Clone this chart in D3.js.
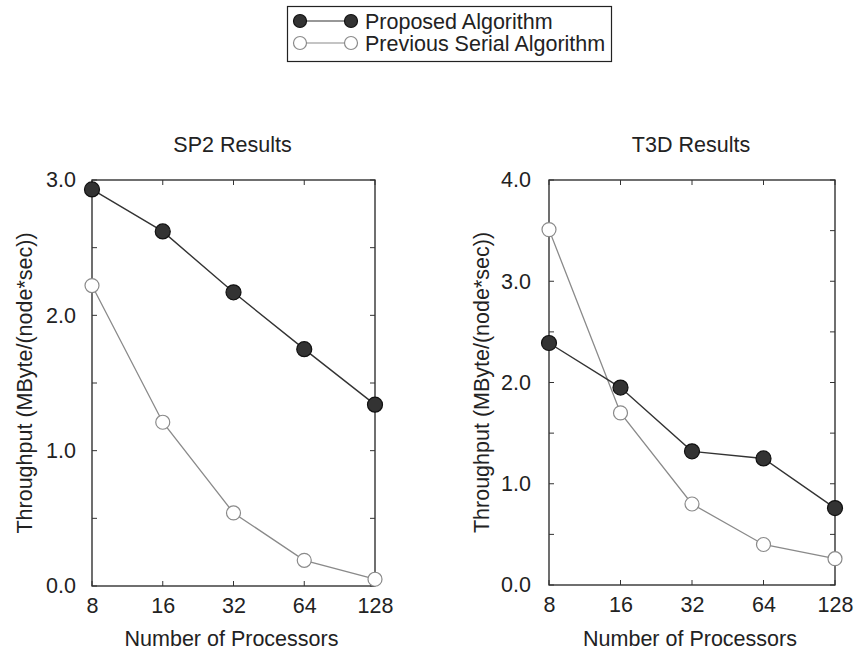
<!DOCTYPE html>
<html>
<head>
<meta charset="utf-8">
<script src="https://cdn.jsdelivr.net/npm/d3@7"></script>
<style>
  body { margin: 0; background: #fff; }
  text { font-family: "Liberation Sans", Arial, sans-serif; fill: #222; }
</style>
</head>
<body>
<svg id="svg" width="855" height="655"></svg>
<script>
// data
var processors = [8, 16, 32, 64, 128];
var seriesNames = ["Proposed Algorithm", "Previous Serial Algorithm"];
var sp2Proposed = [2.93, 2.62, 2.17, 1.75, 1.34];
var sp2Previous = [2.22, 1.21, 0.54, 0.19, 0.05];
var t3dProposed = [2.39, 1.95, 1.32, 1.25, 0.76];
var t3dPrevious = [3.51, 1.70, 0.80, 0.40, 0.26];
var sp2Ticks = [0, 1, 2, 3];
var t3dTicks = [0, 1, 2, 3, 4];

var svg = d3.select("#svg");

var darkCol = "#333";
var lightCol = "#8a8a8a";
var fs = 21.5;

// legend
var legend = svg.append("g");
legend.append("rect")
  .attr("x", 287.5).attr("y", 6.5).attr("width", 324).attr("height", 55)
  .attr("fill", "none").attr("stroke", "#222").attr("stroke-width", 1.2);

seriesNames.forEach(function(name, i){
  var y = 21 + i * 22;
  var g = legend.append("g");
  g.append("line").attr("x1", 300).attr("x2", 351).attr("y1", y).attr("y2", y)
    .attr("stroke", i == 0 ? darkCol : lightCol).attr("stroke-width", 1.2);
  [300, 351].forEach(function(cx){
    g.append("circle").attr("cx", cx).attr("cy", y).attr("r", 6.5)
      .attr("fill", i == 0 ? darkCol : "#fff")
      .attr("stroke", i == 0 ? "#111" : lightCol).attr("stroke-width", 1.2);
  });
  g.append("text").attr("x", 365).attr("y", y + 7.5)
    .attr("font-size", fs).text(name);
});

function drawPanel(opts){
  var x = d3.scaleLog().base(2).domain([8, 128]).range([opts.left, opts.right]);
  var y = d3.scaleLinear().domain([0, opts.ymax]).range([opts.bottom, opts.top]);
  var g = svg.append("g");

  g.append("text").attr("x", (opts.left + opts.right) / 2 - 1).attr("y", 152)
    .attr("text-anchor", "middle").attr("font-size", fs).text(opts.title);

  // frame
  g.append("rect").attr("x", opts.left).attr("y", opts.top)
    .attr("width", opts.right - opts.left).attr("height", opts.bottom - opts.top)
    .attr("fill", "none").attr("stroke", "#222").attr("stroke-width", 1.3);

  // inward ticks
  var minor = d3.range(0, opts.ymax + 0.01, 0.5);
  minor.forEach(function(v){
    g.append("line").attr("x1", opts.left).attr("x2", opts.left + 5)
      .attr("y1", y(v)).attr("y2", y(v)).attr("stroke", "#333");
    g.append("line").attr("x1", opts.right).attr("x2", opts.right - 5)
      .attr("y1", y(v)).attr("y2", y(v)).attr("stroke", "#333");
  });
  processors.forEach(function(p){
    g.append("line").attr("x1", x(p)).attr("x2", x(p))
      .attr("y1", opts.top).attr("y2", opts.top + 5).attr("stroke", "#333");
    g.append("line").attr("x1", x(p)).attr("x2", x(p))
      .attr("y1", opts.bottom).attr("y2", opts.bottom - 5).attr("stroke", "#333");
  });

  // tick labels
  var yAxis = d3.axisLeft(y).tickValues(opts.ticks).tickFormat(d3.format(".1f"))
    .tickSize(0).tickPadding(opts.ypad);
  var ya = g.append("g").attr("transform", "translate(" + opts.left + ",0)").call(yAxis);
  ya.select(".domain").remove();
  ya.attr("font-size", null).attr("font-family", null);
  ya.selectAll("text").attr("font-size", fs).attr("fill", "#222");

  var xAxis = d3.axisBottom(x).tickValues(processors).tickFormat(d3.format("d"))
    .tickSize(0).tickPadding(12);
  var xa = g.append("g").attr("transform", "translate(0," + opts.bottom + ")").call(xAxis);
  xa.select(".domain").remove();
  xa.attr("font-size", null).attr("font-family", null);
  xa.selectAll("text").attr("font-size", fs).attr("fill", "#222");

  g.append("text").attr("x", (opts.left + opts.right) / 2 - 2).attr("y", 646)
    .attr("text-anchor", "middle").attr("font-size", fs).text("Number of Processors");

  g.append("text")
    .attr("transform", "translate(" + (opts.left - 60) + "," + ((opts.top + opts.bottom) / 2) + ") rotate(-90)")
    .attr("text-anchor", "middle").attr("font-size", fs)
    .text("Throughput (MByte/(node*sec))");

  var line = d3.line().x(function(d, i){ return x(processors[i]); }).y(function(d){ return y(d); });

  // previous serial (drawn first, lighter)
  g.append("path").attr("d", line(opts.previous)).attr("fill", "none")
    .attr("stroke", lightCol).attr("stroke-width", 1.3);
  g.append("path").attr("d", line(opts.proposed)).attr("fill", "none")
    .attr("stroke", darkCol).attr("stroke-width", 1.4);

  g.selectAll(".prev").data(opts.previous).enter().append("circle")
    .attr("cx", function(d, i){ return x(processors[i]); })
    .attr("cy", function(d){ return y(d); })
    .attr("r", 7).attr("fill", "#fff").attr("stroke", lightCol).attr("stroke-width", 1.2);
  g.selectAll(".prop").data(opts.proposed).enter().append("circle")
    .attr("cx", function(d, i){ return x(processors[i]); })
    .attr("cy", function(d){ return y(d); })
    .attr("r", 7.5).attr("fill", darkCol).attr("stroke", "#111").attr("stroke-width", 1.2);
}

drawPanel({ title: "SP2 Results", left: 92, right: 375, top: 180, bottom: 586, ypad: 16,
  ymax: 3, ticks: sp2Ticks, proposed: sp2Proposed, previous: sp2Previous });
drawPanel({ title: "T3D Results", left: 549, right: 835, top: 180, bottom: 585, ypad: 18,
  ymax: 4, ticks: t3dTicks, proposed: t3dProposed, previous: t3dPrevious });
</script>
</body>
</html>
